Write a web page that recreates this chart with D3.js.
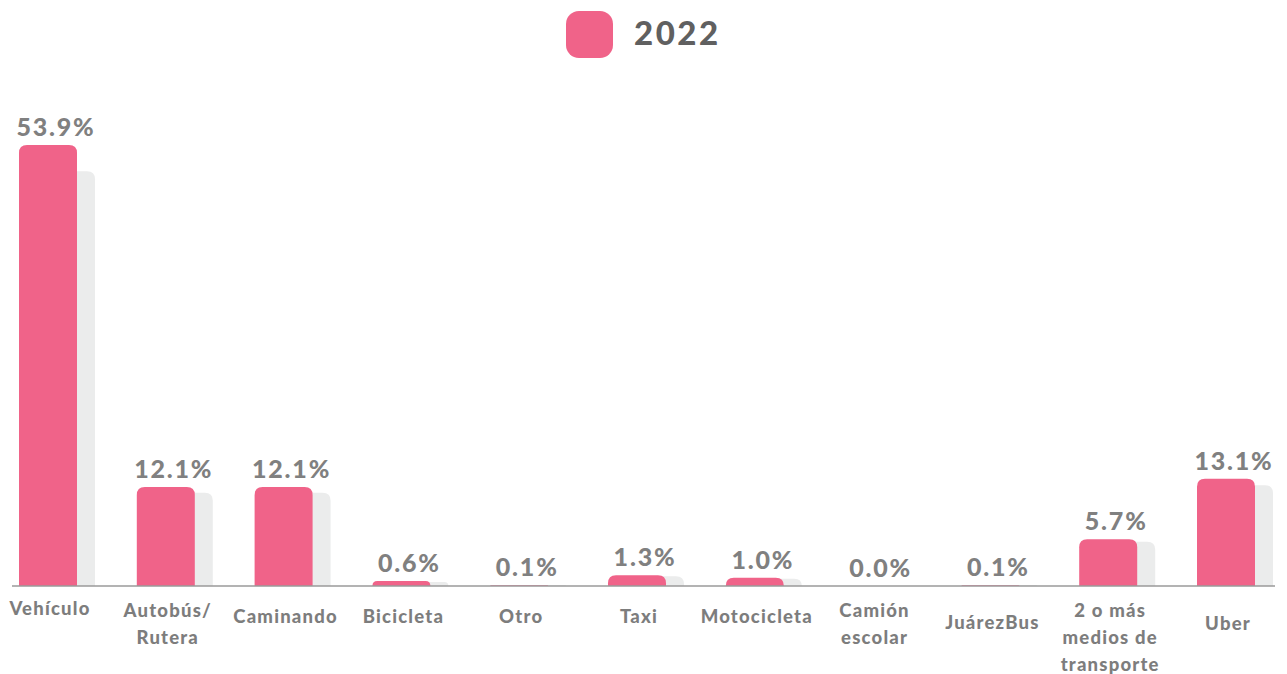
<!DOCTYPE html>
<html>
<head>
<meta charset="utf-8">
<script src="https://cdn.jsdelivr.net/npm/d3@7"></script>
<style>
  html, body { margin: 0; padding: 0; background: #ffffff; }
  svg { display: block; }
</style>
</head>
<body>
<svg id="chart" width="1287" height="674"></svg>
<script>
// ---- data ----
const categories = ["Vehículo", "Autobús/ Rutera", "Caminando", "Bicicleta", "Otro", "Taxi", "Motocicleta", "Camión escolar", "JuárezBus", "2 o más medios de transporte", "Uber"];
const categoryLines = [["Vehículo"], ["Autobús/", "Rutera"], ["Caminando"], ["Bicicleta"], ["Otro"], ["Taxi"], ["Motocicleta"], ["Camión", "escolar"], ["JuárezBus"], ["2 o más", "medios de", "transporte"], ["Uber"]];
const values2022 = [53.9, 12.1, 12.1, 0.6, 0.1, 1.3, 1.0, 0.0, 0.1, 5.7, 13.1];
const shadowValues = [50.7, 11.4, 11.4, 0.5, 0.1, 1.2, 0.9, 0.0, 0.1, 5.4, 12.3];
const valueLabels = ["53.9%", "12.1%", "12.1%", "0.6%", "0.1%", "1.3%", "1.0%", "0.0%", "0.1%", "5.7%", "13.1%"];
const legendLabel = "2022";

// ---- layout ----
const baseY = 586;
const labelFirstBaseline = [615, 617, 623, 623, 623, 623, 623, 617, 629, 617, 630];
const barW = 58, shadowDx = 18, radius = 8;
const pink = "#f06389", shadowCol = "#ebecec", textCol = "#808080";

const svg = d3.select("#chart");
const x = d3.scalePoint().domain(categories).range([48, 1226]);
const y = d3.scaleLinear().domain([0, 53.9]).range([baseY, 145]);

function topRounded(cx, w, top, bottom, r) {
  const h = bottom - top;
  if (h <= 0) return "";
  const rr = Math.min(r, h, w / 2);
  const x0 = cx - w / 2, x1 = cx + w / 2;
  return `M${x0},${bottom}V${top + rr}Q${x0},${top} ${x0 + rr},${top}H${x1 - rr}Q${x1},${top} ${x1},${top + rr}V${bottom}Z`;
}

// shadows
svg.append("g").selectAll("path").data(categories).join("path")
  .attr("d", (c, i) => topRounded(x(c) + shadowDx, barW, y(shadowValues[i]), baseY, radius))
  .attr("fill", shadowCol);

// bars
svg.append("g").selectAll("path").data(categories).join("path")
  .attr("d", (c, i) => topRounded(x(c), barW, y(values2022[i]), baseY, radius))
  .attr("fill", pink);

// axis line
svg.append("line")
  .attr("x1", 12).attr("x2", 1275)
  .attr("y1", baseY).attr("y2", baseY)
  .attr("stroke", "#9a9a9a").attr("stroke-width", 1.5);

// value labels
svg.append("g").selectAll("text").data(categories).join("text")
  .attr("x", c => x(c) + 8)
  .attr("y", (c, i) => y(values2022[i]) - 9)
  .attr("text-anchor", "middle")
  .attr("font-family", "Lato, 'Open Sans', sans-serif")
  .attr("font-weight", 900)
  .attr("font-size", 25)
  .attr("letter-spacing", 1.8)
  .attr("fill", textCol)
  .text((c, i) => valueLabels[i]);

// category labels
const cg = svg.append("g");
categories.forEach((c, i) => {
  const t = cg.append("text")
    .attr("text-anchor", "middle")
    .attr("font-family", "Lato, 'Open Sans', sans-serif")
    .attr("font-weight", 900)
    .attr("font-size", 18.5)
    .attr("letter-spacing", 1.2)
    .attr("fill", "#7d7d7d");
  categoryLines[i].forEach((ln, j) => {
    t.append("tspan")
      .attr("x", x(c) + 2)
      .attr("y", labelFirstBaseline[i] + j * 27)
      .text(ln);
  });
});

// legend
svg.append("rect")
  .attr("x", 566).attr("y", 11).attr("width", 47).attr("height", 47)
  .attr("rx", 13).attr("fill", pink);
svg.append("text")
  .attr("x", 634).attr("y", 45)
  .attr("font-family", "Lato, 'Open Sans', sans-serif")
  .attr("font-weight", 900)
  .attr("font-size", 33)
  .attr("letter-spacing", 2.5)
  .attr("fill", "#606060")
  .text(legendLabel);
</script>
</body>
</html>
